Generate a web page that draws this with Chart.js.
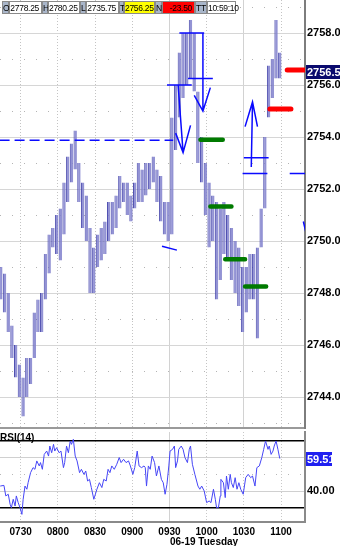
<!DOCTYPE html>
<html>
<head>
<meta charset="UTF-8">
<title>ES 1 min</title>
<script src="https://cdn.jsdelivr.net/npm/chart.js"></script>
<style>
  body { margin: 0; background: #fff; font-family: 'Liberation Sans', Arial, sans-serif; }
  #wrap { position: relative; width: 340px; height: 546px; overflow: hidden; }
  #priceChart { position: absolute; left: 0; top: 0; }
  #rsiChart { position: absolute; left: 0; top: 431px; }
  .q { position: absolute; top: 1px; height: 13px; line-height: 13px; font-size: 8.5px; letter-spacing: -0.3px;
       border: 1px solid #8a8a8a; box-sizing: border-box; color: #000; }
  .k { background: #a9b6ca; text-align: center; }
  .v { background: #fff; text-align: right; padding-right: 2px; }
  #rsiTitle { position: absolute; left: 0; top: 432px; font: bold 10px 'Liberation Sans', Arial, sans-serif; }
  #dayLabel { position: absolute; left: 170px; top: 536px; font: bold 10px 'Liberation Sans', Arial, sans-serif; }
</style>
</head>
<body>
<div id="wrap">
  <canvas id="priceChart" width="340" height="431"></canvas>
  <canvas id="rsiChart" width="340" height="115"></canvas>

  <!-- quote strip -->
  <div class="q k" style="left:2px;width:7px">O</div>
  <div class="q v" style="left:9px;width:33px">2778.25</div>
  <div class="q k" style="left:42px;width:6px">H</div>
  <div class="q v" style="left:48px;width:32px">2780.25</div>
  <div class="q k" style="left:80px;width:6px">L</div>
  <div class="q v" style="left:86px;width:33px">2735.75</div>
  <div class="q k" style="left:119px;width:5px">T</div>
  <div class="q v" style="left:124px;width:31px;background:#ffff00">2756.25</div>
  <div class="q k" style="left:155px;width:7px">N</div>
  <div class="q v" style="left:162px;width:33px;background:#ff0000">-23.50</div>
  <div class="q k" style="left:195px;width:12px">TT</div>
  <div class="q v" style="left:207px;width:29px">10:59:10</div>

  <div id="rsiTitle">RSI(14)</div>
  <div id="dayLabel">06-19 Tuesday</div>
</div>

<script>
  // 3 minute bars
  const barTimes = ['07:14','07:17','07:20','07:23','07:26','07:29','07:32','07:35','07:38','07:41','07:44','07:47','07:50','07:53','07:56','07:59',
    '08:02','08:05','08:08','08:11','08:14','08:17','08:20','08:23','08:26','08:29','08:32','08:35','08:38','08:41','08:44','08:47','08:50','08:53','08:56','08:59',
    '09:02','09:05','09:08','09:11','09:14','09:17','09:20','09:23','09:26','09:29','09:32','09:35','09:38','09:41','09:44','09:47','09:50','09:53','09:56','09:59',
    '10:02','10:05','10:08','10:11','10:14','10:17','10:20','10:23','10:26','10:29','10:32','10:35','10:38','10:41','10:44','10:47','10:50','10:53','10:56','10:59'];
  const barHigh = [2749.0, 2748.75, 2748.0, 2746.75, 2746.0, 2745.25, 2744.75, 2745.5, 2745.5, 2747.25, 2747.75, 2748.0, 2749.5, 2750.25, 2750.5, 2751.0,
    2751.25, 2752.25, 2753.25, 2753.75, 2754.25, 2753.0, 2752.25, 2751.75, 2750.5, 2749.75, 2750.25, 2750.5, 2750.75, 2751.5, 2751.5, 2751.75, 2752.5, 2752.25, 2752.25, 2751.75,
    2752.25, 2753.0, 2752.75, 2753.0, 2753.0, 2753.25, 2752.75, 2752.5, 2751.5, 2751.5, 2754.75, 2756.0, 2757.25, 2758.0, 2758.0, 2758.5, 2758.0, 2755.75, 2754.0, 2753.0,
    2752.25, 2751.75, 2751.5, 2751.25, 2751.5, 2751.0, 2750.5, 2750.0, 2749.75, 2749.0, 2749.0, 2749.5, 2749.5, 2749.75, 2751.25, 2754.0, 2756.75, 2757.0, 2758.5, 2757.25];
  const barLow = [2747.75, 2747.25, 2746.5, 2745.5, 2744.75, 2744.0, 2743.25, 2744.0, 2744.5, 2745.5, 2746.5, 2746.5, 2747.75, 2748.75, 2749.75, 2749.5,
    2749.25, 2750.25, 2751.5, 2752.25, 2752.75, 2751.5, 2750.5, 2750.0, 2748.0, 2748.0, 2749.0, 2749.25, 2749.5, 2750.0, 2750.25, 2750.5, 2751.25, 2751.5, 2751.0, 2750.75,
    2751.25, 2751.5, 2751.5, 2751.75, 2752.0, 2752.25, 2751.5, 2750.75, 2750.25, 2750.0, 2750.25, 2753.5, 2754.75, 2755.5, 2756.0, 2756.25, 2755.75, 2753.0, 2752.25, 2751.0,
    2749.75, 2750.0, 2747.75, 2748.5, 2749.5, 2749.25, 2748.5, 2748.0, 2747.5, 2746.5, 2747.25, 2747.75, 2747.75, 2746.25, 2749.75, 2751.25, 2754.75, 2755.5, 2756.25, 2756.25];
  const lastPrice = 2756.50;

  const rsiTimes = ['07:13:30','07:16:30','07:18','07:20','07:21:30','07:22:30','07:24','07:25:30','07:26:30','07:28','07:29:30','07:31','07:32','07:33:30',
    '07:35','07:36','07:38','07:40','07:41:30','07:43','07:45','07:46','07:47:30','07:49','07:51','07:52:30','07:53:30','07:55','07:56:30','07:57:30','07:59',
    '08:01','08:02:30','08:04:30','08:05:30','08:07','08:08:30','08:10','08:11','08:12:30','08:14','08:15:30','08:17:30','08:19','08:21','08:22:30','08:24',
    '08:25:30','08:27','08:29','08:31:30','08:33:30','08:35:30','08:37','08:39','08:40:30','08:42','08:43:30','08:45:30','08:47:30','08:49:30','08:51','08:53',
    '08:55','08:57','08:58:30','09:00:30','09:02','09:04','09:05:30','09:07:30','09:09:30','09:10:30','09:11:30','09:13','09:14:30','09:16','09:18','09:19:30',
    '09:21:30','09:23:30','09:25','09:26:30','09:28','09:29:30','09:30:30','09:32:30','09:34','09:35','09:36:30','09:37:30','09:39:30','09:41','09:42:30',
    '09:44:30','09:46','09:47','09:48:30','09:50:30','09:53','09:54:30','09:56','09:58','10:00','10:02','10:03:30','10:05:30','10:07','10:08','10:09:30',
    '10:11','10:11:30','10:13:30','10:15','10:16','10:17:30','10:19','10:20','10:21:30','10:23','10:24:30','10:26','10:27:30','10:29:30','10:31:30','10:33:30',
    '10:35:30','10:37','10:39','10:40:30','10:42:30','10:44:30','10:46','10:47:30','10:49:30','10:50:30','10:52','10:53:30','10:54:30','10:56','10:57:30','10:59'];
  const rsiValues = [43.1, 43.5, 37.2, 38.2, 32.2, 30.2, 35.2, 31.2, 37.2, 33.2, 30.2, 26.2, 35.2, 43.1,
    41.2, 45.1, 51.1, 54.1, 53.1, 58.1, 55.1, 57.1, 53.1, 62.0, 64.0, 61.0, 67.0, 63.0, 68.0, 64.0, 66.0,
    63.0, 64.0, 54.1, 57.1, 67.0, 63.0, 70.0, 68.0, 71.0, 61.0, 58.1, 51.1, 53.1, 50.1, 52.1, 46.1,
    47.1, 42.2, 35.2, 41.2, 45.1, 42.2, 47.1, 46.1, 53.1, 51.1, 55.1, 53.1, 56.1, 60.1, 57.1, 59.1,
    57.1, 58.1, 55.1, 50.1, 54.1, 64.0, 55.1, 54.1, 55.1, 54.1, 43.1, 55.1, 53.1, 61.0, 57.1, 49.1,
    55.1, 47.1, 45.1, 38.2, 44.1, 55.1, 64.0, 65.0, 67.0, 54.1, 58.1, 65.0, 67.0, 65.0, 60.1,
    57.1, 65.0, 67.0, 56.1, 50.1, 43.1, 41.2, 43.1, 40.2, 33.2, 34.2, 33.2, 41.2, 35.2, 30.2, 30.2,
    37.2, 47.1, 45.1, 36.2, 49.1, 41.2, 50.1, 45.1, 42.2, 48.1, 41.2, 45.1, 41.2, 38.2, 48.1, 50.1,
    48.1, 49.1, 43.1, 54.1, 55.1, 60.1, 65.0, 70.0, 65.0, 67.0, 62.0, 64.0, 67.0, 70.0, 65.0, 59.51];
  const rsiLast = 59.51;

  const viewStart = '07:13:20', viewEnd = '11:19:20';
  const priceMin = 2742.81, priceMax = 2759.27;
  const rsiMin = 21.64, rsiMax = 75.37;
  const priceTicks = [2744, 2746, 2748, 2750, 2752, 2754, 2756, 2758];
  const priceMinorTicks = [2743, 2745, 2747, 2749, 2751, 2753, 2755, 2757, 2759];
  const timeSolidTicks = ['09:30', '10:30'];
  const timeDotTicks = ['07:30', '08:00', '08:30', '09:00', '10:00', '11:00'];
  const rsiSolidTimes = ['09:30'];
  const rsiDotTimes = ['07:30', '08:00', '08:30', '09:00', '10:00', '10:30', '11:00'];
  const timeLabelTicks = ['07:30', '08:00', '08:30', '09:00', '09:30', '10:00', '10:30', '11:00'];
  const rsiTicks = [30, 40, 60, 70];
  const rsiMinorTicks = [50];
  const rsiBands = [30, 70];
  const rsiLabelTicks = [40];

  // hand drawn levels and arrows: [time, price] points
  const dashedLines = [
    [['07:13', 2753.88], ['09:33', 2753.88]]
  ];
  const blueLines = [
    [['09:28', 2756.0], ['09:48', 2756.0]],
    [['09:38', 2758.0], ['09:58', 2758.0]],
    [['09:57', 2758.0], ['09:57', 2755.0]],
    [['09:50', 2755.6], ['09:57', 2755.0], ['10:03', 2755.9]],
    [['09:45', 2756.25], ['10:05', 2756.25]],
    [['09:37', 2756.0], ['09:41', 2753.4]],
    [['09:35', 2754.15], ['09:41', 2753.4], ['09:47', 2754.45]],
    [['09:24', 2749.8], ['09:36', 2749.65]],
    [['10:36', 2752.85], ['10:37', 2755.35]],
    [['10:31', 2754.4], ['10:37', 2755.35], ['10:41', 2754.4]],
    [['10:30', 2753.2], ['10:50', 2753.2]],
    [['10:29', 2752.6], ['10:49', 2752.6]],
    [['11:07', 2752.6], ['11:25', 2752.6]],
    [['11:18', 2750.75], ['11:20', 2750.35]]
  ];
  const greenLines = [
    [['09:55', 2753.9], ['10:13', 2753.9]],
    [['10:03', 2751.33], ['10:20', 2751.33]],
    [['10:15', 2749.3], ['10:31', 2749.3]],
    [['10:31', 2748.25], ['10:48', 2748.25]]
  ];
  const redLines = [
    [['11:05', 2756.58], ['11:25', 2756.58]],
    [['10:51', 2755.08], ['11:08', 2755.08]]
  ];

  const toMin = s => { const [h, m, sec] = s.split(':').map(Number); return h * 60 + m + (sec || 0) / 60; };
  const hhmm = v => String(Math.floor(v / 60)).padStart(2, '0') + String(Math.round(v % 60)).padStart(2, '0');
  const toPoints = lines => {
    const pts = [];
    lines.forEach(line => {
      line.forEach(([t, p]) => pts.push({ x: toMin(t), y: p }));
      pts.push({ x: toMin(line[line.length - 1][0]), y: null });
    });
    return pts;
  };
  const setTicks = list => s => { s.ticks = list.map(v => ({ value: typeof v === 'string' ? toMin(v) : v })); };
  const noPad = size => s => { Object.assign(s, size, { paddingTop: 0, paddingBottom: 0, paddingLeft: 0, paddingRight: 0 }); };

  const FONT = 'Liberation Sans';

  // last value tag on the right axis
  const valueTag = {
    id: 'valueTag',
    afterDraw(chart, args, o) {
      const { ctx, chartArea } = chart;
      const y = Math.round(chart.scales[o.axis].getPixelForValue(o.value));
      ctx.save();
      ctx.fillStyle = o.bg;
      ctx.fillRect(chartArea.right + 1, y - 7, o.width, 14);
      ctx.fillStyle = '#fff';
      ctx.font = `bold 11px "${FONT}"`;
      ctx.textBaseline = 'middle';
      ctx.fillText(o.text, chartArea.right + 2, y + 0.5);
      ctx.restore();
    }
  };

  const lineSet = (lines, color, width, extra) => Object.assign({
    type: 'line',
    data: toPoints(lines),
    borderColor: color,
    borderWidth: width,
    pointRadius: 0,
    spanGaps: false,
    fill: false,
    tension: 0,
    order: 0
  }, extra || {});

  // hidden helper axis that only draws grid lines
  const gridAxis = (position, ticks, min, max, color, dash) => ({
    type: 'linear', position, min, max, offset: false, bounds: 'data',
    afterBuildTicks: setTicks(ticks),
    afterFit: noPad(position === 'bottom' ? { height: 0 } : { width: 0 }),
    ticks: { display: false },
    grid: { color, drawTicks: false, offset: false },
    border: { display: false, dash }
  });

  new Chart(document.getElementById('priceChart'), {
    type: 'bar',
    data: {
      datasets: [
        lineSet(redLines, '#ff0000', 5, { borderCapStyle: 'round' }),
        lineSet(greenLines, '#007a00', 4.5, { borderCapStyle: 'round' }),
        lineSet(blueLines, '#0a0aff', 1.5),
        lineSet(dashedLines, '#0a0aff', 1.5, { borderDash: [10, 5] }),
        {
          label: 'ES',
          data: barTimes.map((t, i) => ({ x: toMin(t), y: [barLow[i], barHigh[i]] })),
          backgroundColor: 'rgba(128, 128, 204, 0.85)',
          borderColor: 'rgba(62, 62, 168, 0.9)',
          borderWidth: { left: 1, right: 0, top: 0, bottom: 0 },
          borderSkipped: false,
          categoryPercentage: 1,
          barPercentage: 0.92,
          order: 5
        }
      ]
    },
    options: {
      responsive: false,
      animation: false,
      events: [],
      layout: { padding: 0 },
      plugins: {
        legend: { display: false },
        tooltip: { enabled: false },
        valueTag: { axis: 'y', value: lastPrice, text: lastPrice.toFixed(2), bg: '#0a0a6e', width: 35 }
      },
      scales: {
        x: {
          type: 'linear', min: toMin(viewStart), max: toMin(viewEnd), offset: false, bounds: 'data',
          afterBuildTicks: setTicks(timeSolidTicks),
          afterFit: noPad({ height: 3 }),
          ticks: { display: false },
          grid: { color: '#d2d2d2', drawTicks: false, offset: false },
          border: { display: true, color: '#9a9a9a', width: 2 }
        },
        x2: gridAxis('bottom', timeDotTicks, toMin(viewStart), toMin(viewEnd), '#c4c4c4', [1, 2]),
        y: {
          type: 'linear', position: 'right', min: priceMin, max: priceMax, beginAtZero: false, bounds: 'data',
          afterBuildTicks: setTicks(priceTicks),
          afterFit: noPad({ width: 35 }),
          ticks: {
            padding: 2, color: '#000', font: { family: FONT, size: 11, weight: 'bold' },
            callback: v => v.toFixed(2)
          },
          grid: { color: '#d6d6d6', drawTicks: false },
          border: { display: true, color: '#7d7d7d', width: 2 }
        },
        yOdd: gridAxis('right', priceMinorTicks, priceMin, priceMax, '#b4b4b4', [1, 11])
      }
    },
    plugins: [valueTag]
  });

  new Chart(document.getElementById('rsiChart'), {
    type: 'line',
    data: {
      datasets: [{
        label: 'RSI(14)',
        data: rsiTimes.map((t, i) => ({ x: toMin(t), y: rsiValues[i] })),
        borderColor: '#4646f6',
        borderWidth: 1,
        pointRadius: 0,
        tension: 0
      }]
    },
    options: {
      responsive: false,
      animation: false,
      events: [],
      layout: { padding: { top: 1 } },
      plugins: {
        legend: { display: false },
        tooltip: { enabled: false },
        valueTag: { axis: 'y', value: rsiLast, text: rsiLast.toFixed(2), bg: '#1f1ff0', width: 26 }
      },
      scales: {
        x: {
          type: 'linear', min: toMin(viewStart), max: toMin(viewEnd), offset: false, bounds: 'data',
          afterBuildTicks: setTicks(timeLabelTicks),
          afterFit: noPad({ height: 24 }),
          ticks: {
            autoSkip: false, maxRotation: 0, padding: 4, color: '#000',
            font: { family: FONT, size: 10, weight: 'bold' },
            callback: v => hhmm(v)
          },
          grid: { color: c => rsiSolidTimes.map(toMin).includes(c.tick.value) ? '#d2d2d2' : 'rgba(0,0,0,0)', drawTicks: false },
          border: { display: true, color: '#8a8a8a', width: 2 }
        },
        x2: gridAxis('bottom', rsiDotTimes, toMin(viewStart), toMin(viewEnd), '#c8c8c8', [1, 2]),
        y: {
          type: 'linear', position: 'right', min: rsiMin, max: rsiMax, bounds: 'data',
          afterBuildTicks: setTicks(rsiTicks),
          afterFit: noPad({ width: 35 }),
          ticks: {
            padding: 2, color: '#000', font: { family: FONT, size: 11, weight: 'bold' },
            callback: v => rsiLabelTicks.includes(v) ? v.toFixed(2) : ''
          },
          grid: {
            drawTicks: false,
            color: c => rsiBands.includes(c.tick.value) ? '#000' : '#d0d0d0',
            lineWidth: c => rsiBands.includes(c.tick.value) ? 1.5 : 1
          },
          border: { display: true, color: '#8a8a8a', width: 2 }
        },
        yMinor: gridAxis('right', rsiMinorTicks, rsiMin, rsiMax, '#b8b8b8', [1, 11])
      }
    },
    plugins: [valueTag]
  });
</script>
</body>
</html>
